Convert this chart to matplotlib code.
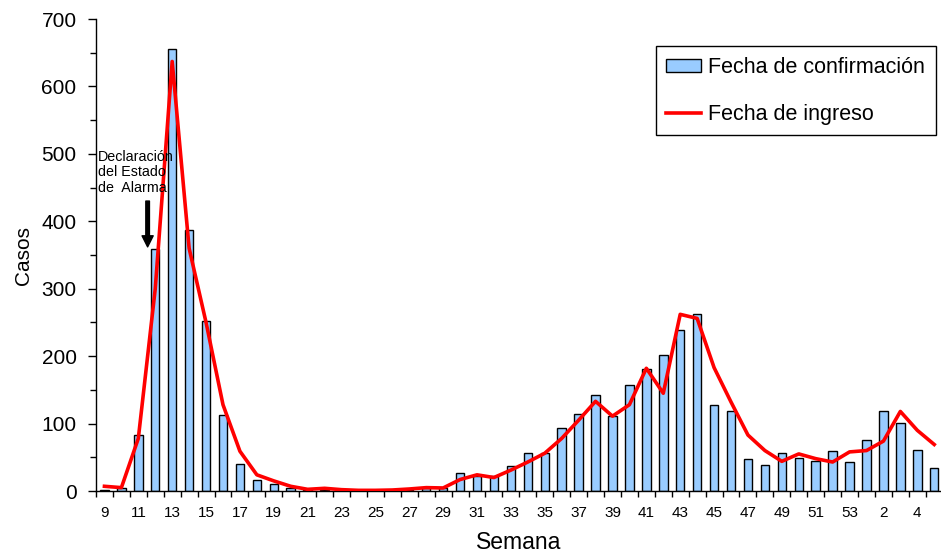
import matplotlib
matplotlib.use("Agg")
import matplotlib.pyplot as plt
from matplotlib.ticker import MultipleLocator, FixedLocator

plt.rcParams["font.family"] = ["Liberation Sans", "DejaVu Sans"]

# Semanas epidemiológicas (2020: 9-53, 2021: 1-5)
semanas = list(range(9, 54)) + [1, 2, 3, 4, 5]

# Casos por fecha de confirmación (barras)
confirmacion = [2, 5, 83, 359, 656, 387, 252, 112, 40, 17,
                10, 4, 1, 1, 0, 0, 0, 0, 2, 5,
                4, 27, 23, 22, 37, 57, 57, 94, 114, 143,
                111, 157, 181, 202, 239, 263, 128, 119, 48, 39,
                57, 49, 44, 60, 43, 76, 119, 101, 61, 34]

# Casos por fecha de ingreso (línea)
ingreso = [7, 5, 78, 300, 637, 360, 250, 128, 59, 24,
           15, 7, 2.5, 4, 2, 1, 1, 1.5, 3, 5,
           4.5, 17, 24, 20, 31, 43, 56, 78, 105, 133,
           111, 128, 182, 145, 262, 256, 183, 132, 83, 60,
           44, 55, 48, 43, 58, 60, 74, 118, 90, 69]

x = list(range(len(semanas)))

fig = plt.figure(figsize=(9.41, 5.54), dpi=100)
ax = fig.add_axes([0.102, 0.1137, 0.898, 0.852])

barras = ax.bar(x, confirmacion, width=0.5, color="#99CCFF", edgecolor="black",
                linewidth=1.0, label="Fecha de confirmación", zorder=2)
linea, = ax.plot(x, ingreso, color="#FF0000", linewidth=2.6,
                 label="Fecha de ingreso", zorder=3)

ax.set_xlim(-0.5, len(semanas) - 0.6)
ax.set_ylim(0, 700)

# ejes
for s in ["top", "right"]:
    ax.spines[s].set_visible(False)
ax.spines["left"].set_linewidth(1.0)
ax.spines["bottom"].set_linewidth(1.0)

ax.yaxis.set_major_locator(MultipleLocator(100))
ax.yaxis.set_minor_locator(MultipleLocator(50))
ax.tick_params(axis="y", which="major", direction="out", length=6, width=1,
               labelsize=15, pad=8)
ax.tick_params(axis="y", which="minor", direction="out", length=4, width=1)

ax.set_xticks(x[::2])
ax.set_xticklabels([str(s) for s in semanas[::2]],
                   family=["Liberation Sans Narrow", "Liberation Sans"])
ax.xaxis.set_minor_locator(FixedLocator([i - 0.5 for i in range(len(semanas) + 1)]))
ax.tick_params(axis="x", which="major", length=0, labelsize=11, pad=11)
ax.tick_params(axis="x", which="minor", direction="out", length=4, width=1)

ax.set_ylabel("Casos", fontsize=15, labelpad=6)
ax.set_xlabel("Semana", fontsize=16.5, labelpad=8)

# anotación estado de alarma
ax.text(-0.4, 506, "Declaración\ndel Estado\nde  Alarma", fontsize=10.3,
        ha="left", va="top", linespacing=1.15)
ax.annotate("", xy=(2.55, 362), xytext=(2.55, 430),
            arrowprops=dict(facecolor="black", edgecolor="black",
                            width=2.6, headwidth=8, headlength=8, shrink=0))

leg = ax.legend([barras, linea], ["Fecha de confirmación", "Fecha de ingreso"],
                loc="upper right", bbox_to_anchor=(936 / 941, 1 - 46 / 554),
                bbox_transform=fig.transFigure, fontsize=15.5, frameon=True,
                fancybox=False, edgecolor="black", framealpha=1,
                handlelength=1.6, handleheight=0.55, handletextpad=0.35,
                labelspacing=1.2, borderpad=0.5, borderaxespad=0)
leg.get_frame().set_linewidth(1.0)

fig.savefig("out.png", dpi=100)
